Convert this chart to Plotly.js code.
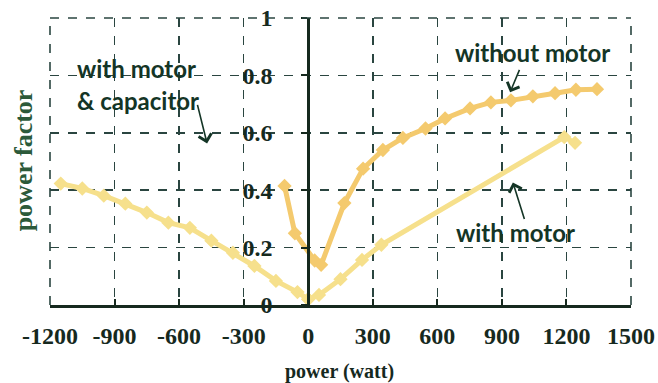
<!DOCTYPE html>
<html>
<head>
<meta charset="utf-8">
<script src="https://cdn.plot.ly/plotly-3.0.1.min.js"></script>
<style>
  html, body { margin: 0; padding: 0; background: #ffffff; }
  #chart { width: 658px; height: 383px; }
</style>
</head>
<body>
<div id="chart"></div>
<script>
// Power factor versus power
const withoutMotorX = [-110, -62, 30, 60, 168, 255, 347, 440, 545, 636, 752, 849, 942, 1044, 1147, 1244, 1342];
const withoutMotorY = [0.415, 0.25, 0.155, 0.14, 0.355, 0.475, 0.54, 0.582, 0.615, 0.65, 0.685, 0.706, 0.713, 0.727, 0.738, 0.75, 0.752];

const capacitorX = [-1150, -1050, -950, -850, -750, -650, -550, -450, -350, -250, -150, -50, 0];
const capacitorY = [0.423, 0.406, 0.381, 0.353, 0.322, 0.287, 0.269, 0.224, 0.182, 0.136, 0.084, 0.045, 0.02];

const withMotorX = [0, 50, 150, 250, 340, 1190, 1240];
const withMotorY = [0.02, 0.035, 0.09, 0.157, 0.21, 0.585, 0.565];

const xTicks = [-1200, -900, -600, -300, 0, 300, 600, 900, 1200, 1500];
const yTicks = [0, 0.2, 0.4, 0.6, 0.8, 1];

const gridColor = '#2a4540';
const inkColor = '#16291e';
const noteColor = '#143526';
const orange = '#f4ca6e';
const yellow = '#f6e08c';

const serif = 'Liberation Serif, Times New Roman, serif';
const sans = 'Lato, Open Sans, sans-serif';

function series(x, y, color) {
  return {
    x: x, y: y, type: 'scatter', mode: 'lines+markers',
    line: { color: color, width: 5 },
    marker: { symbol: 'diamond', size: 11, color: color },
    hoverinfo: 'skip', showlegend: false
  };
}

const data = [
  series(capacitorX, capacitorY, yellow),
  series(withMotorX, withMotorY, yellow),
  series(withoutMotorX, withoutMotorY, orange)
];

function note(text, x, y, anchor) {
  return { text: '<b>' + text + '</b>', x: x, y: y, xref: 'x', yref: 'y',
           xanchor: anchor, yanchor: 'middle', showarrow: false,
           font: { family: sans, size: 24, color: noteColor } };
}
function pointer(x, y, ax, ay) {
  return { text: '', x: x, y: y, xref: 'x', yref: 'y', ax: ax, ay: ay,
           showarrow: true, arrowhead: 4, arrowsize: 1.6, arrowwidth: 1.6,
           arrowcolor: noteColor };
}
const bold = v => '<b>' + v + '</b>';

const layout = {
  width: 658, height: 383,
  margin: { l: 50, r: 27, t: 18, b: 78 },
  paper_bgcolor: '#ffffff', plot_bgcolor: '#ffffff',
  xaxis: {
    range: [-1200, 1500], tickvals: xTicks, ticktext: xTicks.map(bold),
    showgrid: true, gridcolor: gridColor, gridwidth: 1.6, griddash: 'dash',
    zeroline: false, showline: true, linecolor: inkColor, linewidth: 2.5,
    ticks: 'inside', ticklen: 6, tickwidth: 2, tickcolor: inkColor,
    tickfont: { family: serif, size: 24, color: inkColor },
    ticklabelstandoff: 8
  },
  yaxis: {
    range: [0, 1], tickvals: yTicks, ticktext: yTicks.map(v => bold(v) + '\u2009'),
    anchor: 'free', position: 1200 / 2700, side: 'left',
    showgrid: true, gridcolor: gridColor, gridwidth: 1.6, griddash: 'dash',
    zeroline: false, showline: true, linecolor: inkColor, linewidth: 2.5,
    ticks: 'outside', ticklen: 6, tickwidth: 2, tickcolor: inkColor,
    tickfont: { family: serif, size: 24, color: inkColor },
    ticklabelstandoff: 19
  },
  shapes: [
    { type: 'line', xref: 'paper', yref: 'paper', x0: 0, x1: 0, y0: 0, y1: 1,
      line: { color: gridColor, width: 1.6, dash: 'dash' } },
    { type: 'line', xref: 'paper', yref: 'paper', x0: 1, x1: 1, y0: 0, y1: 1,
      line: { color: gridColor, width: 1.6, dash: 'dash' } },
    { type: 'line', xref: 'paper', yref: 'paper', x0: 0, x1: 1, y0: 1, y1: 1,
      line: { color: gridColor, width: 1.6, dash: 'dash' } }
  ],
  annotations: [
    note('with motor', -1084, 0.825, 'left'),
    note('&amp; capacitor', -1084, 0.713, 'left'),
    pointer(-470, 0.563, -10, -40),
    note('without motor', 1044, 0.881, 'center'),
    pointer(938, 0.741, 10, -24),
    note('with motor', 961, 0.252, 'center'),
    pointer(951, 0.427, 12, 38),
    { text: '<b>power (watt)</b>', xref: 'paper', yref: 'paper', x: 0.499, y: -0.232,
      xanchor: 'center', yanchor: 'middle', showarrow: false,
      font: { family: serif, size: 20, color: inkColor } },
    { text: '<b>power factor</b>', xref: 'paper', yref: 'paper', x: -0.046, y: 0.505,
      xanchor: 'center', yanchor: 'middle', showarrow: false, textangle: -90,
      font: { family: serif, size: 26, color: '#2c5a3a' } }
  ]
};

Plotly.newPlot('chart', data, layout, { displayModeBar: false, staticPlot: true });
</script>
</body>
</html>
